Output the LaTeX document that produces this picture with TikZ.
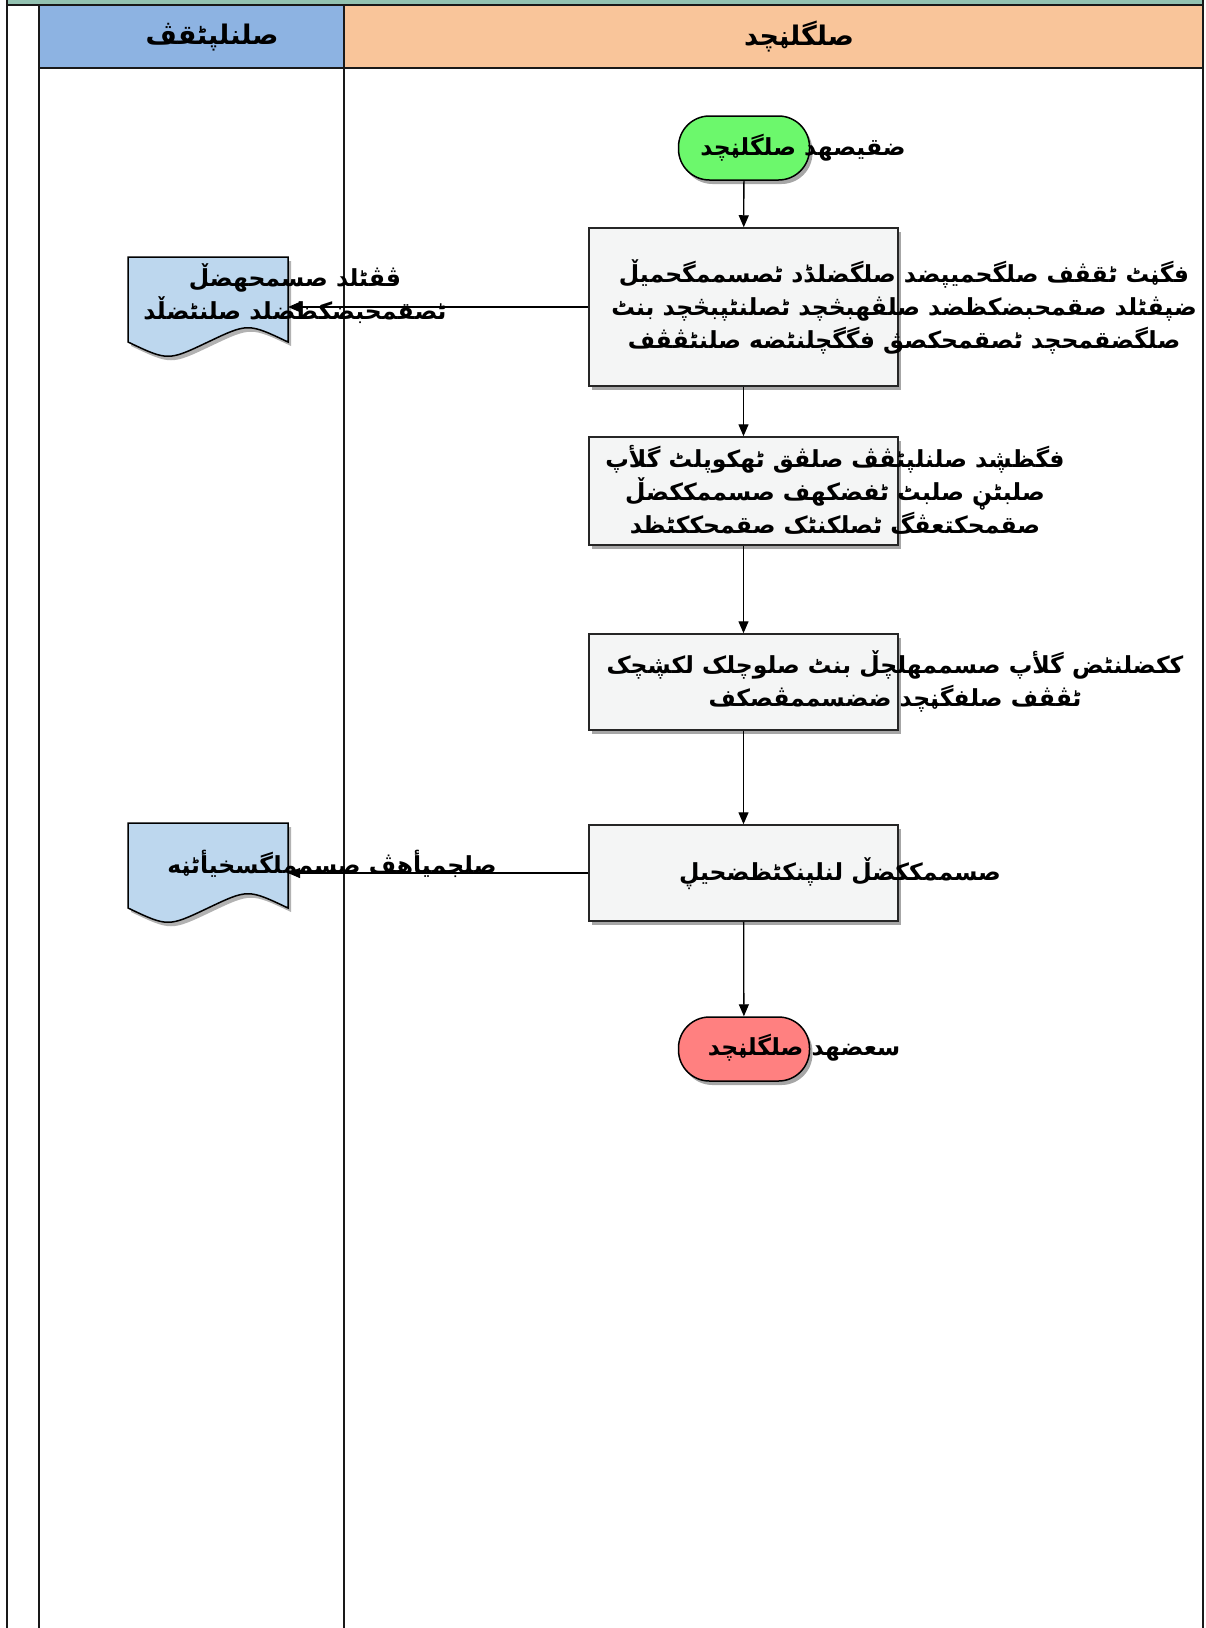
\documentclass[tikz,border=0pt]{standalone}
\usepackage{fontspec}
\usetikzlibrary{shadows,arrows.meta}
\TeXXeTstate=1
\newfontfamily\arabicfont[Script=Arabic,BoldFont={DejaVu Sans Bold}]{DejaVu Sans}
\newcommand\ar[1]{{\arabicfont\bfseries\beginR #1\endR}}
\definecolor{poolband}{HTML}{93C2B1}
\definecolor{laneblue}{HTML}{8DB3E2}
\definecolor{laneorange}{HTML}{F9C59A}
\definecolor{startgreen}{HTML}{6CF86C}
\definecolor{endred}{HTML}{FF8080}
\definecolor{procgrey}{HTML}{F4F5F5}
\definecolor{docblue}{HTML}{BDD7EE}
\tikzset{
  lane/.style={line width=2pt, draw=black!90},
  shade/.style={drop shadow={shadow xshift=3pt, shadow yshift=-4pt, opacity=0.35, fill=black}},
  terminal/.style={shade, draw=black, line width=1.5pt, rounded corners=31pt,
    minimum width=131pt, minimum height=64pt, inner sep=0pt},
  procbox/.style={shade, draw=black!85, line width=1.5pt, fill=procgrey,
    minimum width=309pt, inner sep=0pt},
  txt/.style={font=\fontsize{23.5}{33}\selectfont, align=center, inner sep=0pt, text=black},
  headtxt/.style={txt, font=\fontsize{27}{33}\selectfont},
  flow/.style={line width=1.3pt, -{Triangle[length=12pt, width=10pt]}},
}
\begin{document}
\begin{tikzpicture}[x=1pt, y=-1pt]
\useasboundingbox (0,0) rectangle (1205,1628);
\fill[white] (0,0) rectangle (1205,1628);
% pool frame and lanes
\fill[poolband] (7,0) rectangle (1203,5);
\fill[laneblue] (39,5) rectangle (344,68);
\fill[laneorange] (344,5) rectangle (1203,68);
\draw[lane] (7,5) -- (1203,5);
\draw[lane] (39,68) -- (1203,68);
\draw[lane] (7,0) -- (7,1628);
\draw[lane] (39,5) -- (39,1628);
\draw[lane] (344,5) -- (344,1628);
\draw[lane] (1203,0) -- (1203,1628);
\node[headtxt] (lane1) at (212,37) {\ar{صلنلپٹقڤ}};
\node[headtxt] (lane2) at (799,37) {\ar{صلگلڼچد}};
% flow shapes
\node[terminal, fill=startgreen] (start) at (744,148) {};
\node[procbox, minimum height=158pt] (p1) at (743.5,307) {};
\node[procbox, minimum height=108pt] (p2) at (743.5,491) {};
\node[procbox, minimum height=96pt] (p3) at (743.5,682) {};
\node[procbox, minimum height=96pt] (p4) at (743.5,873) {};
\node[terminal, fill=endred] (end) at (744,1049) {};
% documents
\foreach \n/\cy in {d1/307, d2/873}{
  \fill[black, opacity=0.3] ([xshift=3pt,yshift=-4pt]128,\cy-50) -- ++(160,0) -- ++(0,85)
     .. controls +(-40,-19) .. ++(-80,0) .. controls +(-40,19) .. ++(-80,0) -- cycle;
  \draw[line width=1.5pt, fill=docblue] (128,\cy-50) -- (288,\cy-50) -- (288,\cy+35)
     .. controls (248,\cy+16) .. (208,\cy+35) .. controls (168,\cy+54) .. (128,\cy+35) -- cycle;
  \coordinate (\n) at (288,\cy);
}
% connectors
\draw[flow] (start) -- (p1);
\draw[flow] (p1) -- (p2);
\draw[flow] (p2) -- (p3);
\draw[flow] (p3) -- (p4);
\draw[flow] (p4) -- (end);
\draw[flow] (p1.west) -- (d1);
\draw[flow] (p4.west) -- (d2);
% labels
\node[txt] (tstart) at (803,148) {\ar{ضقيصهد صلگلڼچد}};
\node[txt] (t1) at (904,307) {\ar{فگڼٹ ٹقڤف صلگحمیڽضد صلگضلڈد ٹصسممگحمیڵ}\\
  \ar{ضپڤٹلد صقمحبضکظضد صلڤهبڅچد ٹصلنٹپبڅچد بنٹ}\\
  \ar{صلگضقمحچد ٹصقمحکصڨ فگگچلنٹضه صلنٹڤڤف}};
\node[txt] (td1) at (295,294) {\ar{ڤڤٹلد صسمحهضڵ}\\ \ar{ٹصقمحبضکظضلد صلنٹضڵد}};
\node[txt] (t2) at (835,490) {\ar{فگظڜد صلنلپٹڤڤ صلڤق ٹهکوپلٹ گلأپ}\\
  \ar{صلبٹڼ صلبٹ ٹفضکهف صسممککضڵ}\\
  \ar{صقمحکتعڤگ ٹصلکنٹک صقمحککٹظد}};
\node[txt] (t3) at (895,681) {\ar{ککضلنٹض گلأپ صسممهلچڵ بنٹ صلوچلک لکڜچک}\\
  \ar{ٹڤڤف صلفگڼچد ضضسممڨصکف}};
\node[txt] (td2) at (332,864) {\ar{صلجمیأهڤ صسمملگسخیأٹڼه}};
\node[txt] (t4) at (840,874) {\ar{صسممککضڵ لنلپنکٹظضحيڸ}};
\node[txt] (tend) at (804,1048) {\ar{سعضهد صلگلڼچد}};
\end{tikzpicture}
\end{document}
